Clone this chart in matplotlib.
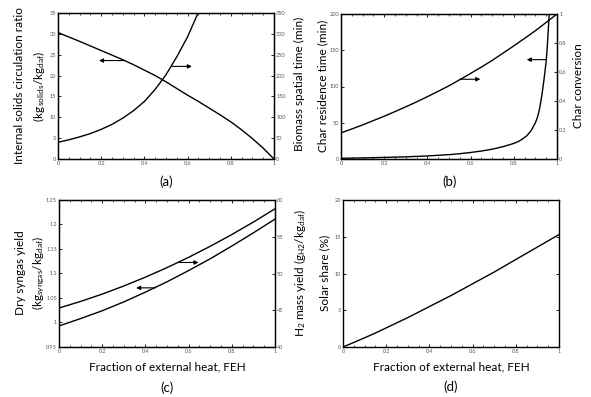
import matplotlib
matplotlib.use("Agg")
import matplotlib.pyplot as plt
from matplotlib.ticker import MultipleLocator, FixedLocator

plt.rcParams['font.family'] = ['Lato', 'DejaVu Sans']
plt.rcParams['mathtext.fontset'] = 'custom'
plt.rcParams['mathtext.rm'] = 'Lato'
plt.rcParams['mathtext.it'] = 'Lato:italic'

# ---- data ----
feh = [0.0, 0.05, 0.1, 0.15, 0.2, 0.25, 0.3, 0.35, 0.4, 0.45, 0.5,
       0.55, 0.6, 0.65, 0.7, 0.75, 0.8, 0.85, 0.9, 0.95, 1.0]

# (a)
circ_ratio = [30.3, 29.25, 28.2, 27.1, 26.0, 24.9, 23.8, 22.6, 21.3, 20.0, 18.5,
              16.9, 15.3, 13.8, 12.2, 10.6, 8.9, 7.0, 4.9, 2.6, 0.0]
feh_spatial = [0.0, 0.05, 0.1, 0.15, 0.2, 0.25, 0.3, 0.35, 0.4, 0.45, 0.5, 0.55, 0.6, 0.65]
spatial_time = [40, 46, 53, 61, 71, 83, 98, 116, 138, 167, 202, 245, 293, 352]

# (b)
feh_res = [0.0, 0.1, 0.2, 0.3, 0.4, 0.5, 0.55, 0.6, 0.65, 0.7, 0.75, 0.8, 0.82, 0.84,
           0.86, 0.88, 0.9, 0.91, 0.92, 0.93, 0.94, 0.95, 0.955, 0.96, 0.964]
char_res_time = [1, 1.5, 2.2, 3, 4.2, 6, 7.3, 9, 11, 13.5, 17, 21.5, 24, 27.5,
                 32, 39, 50, 58, 70, 88, 110, 135, 155, 180, 200]
char_conv = [0.18, 0.207, 0.235, 0.265, 0.295, 0.327, 0.36, 0.394, 0.43, 0.467, 0.505,
             0.547, 0.59, 0.634, 0.68, 0.73, 0.78, 0.832, 0.885, 0.942, 1.0]

# (c)
syngas_yield = [0.993, 1.0005, 1.008, 1.016, 1.024, 1.033, 1.042, 1.052, 1.062, 1.0725, 1.083,
                1.0945, 1.106, 1.118, 1.130, 1.143, 1.156, 1.1695, 1.183, 1.197, 1.211]
h2_yield = [45.3, 45.75, 46.2, 46.7, 47.2, 47.75, 48.3, 48.9, 49.5, 50.15, 50.8,
            51.5, 52.2, 52.95, 53.7, 54.5, 55.3, 56.15, 57.0, 57.9, 58.8]

# (d)
solar_share = [0.0, 0.62, 1.25, 1.9, 2.6, 3.3, 4.0, 4.75, 5.5, 6.25, 7.0,
               7.8, 8.6, 9.4, 10.2, 11.05, 11.9, 12.75, 13.6, 14.45, 15.3]

xticks = [0, 0.2, 0.4, 0.6, 0.8, 1.0]
xticklabels = ['0', '0.2', '0.4', '0.6', '0.8', '1']

W, H = 591, 397
fig = plt.figure(figsize=(W / 100, H / 100), dpi=100)

def box(l, r, t, b):
    return [l / W, 1 - b / H, (r - l) / W, (b - t) / H]

TICKC = '#555555'
TICKFS = 4.0
LABFS = 8.5

def style(ax, ylim, ystep, yfmt=None):
    ax.set_xlim(0, 1)
    ax.set_ylim(*ylim)
    ax.xaxis.set_major_locator(FixedLocator(xticks))
    ax.set_xticklabels(xticklabels)
    ax.xaxis.set_minor_locator(MultipleLocator(0.05))
    ax.yaxis.set_major_locator(MultipleLocator(ystep))
    if yfmt is not None:
        ax.yaxis.set_major_formatter(yfmt)
    ax.tick_params(which='both', direction='in', top=True, colors='black',
                   labelcolor=TICKC, labelsize=TICKFS, pad=1.5)
    ax.tick_params(which='major', length=2.5, width=0.6)
    ax.tick_params(which='minor', length=1.5, width=0.5)
    for s in ax.spines.values():
        s.set_linewidth(1.0)

def twin_style(ax2, ylim, ystep, yfmt=None):
    ax2.set_ylim(*ylim)
    ax2.yaxis.set_major_locator(MultipleLocator(ystep))
    if yfmt is not None:
        ax2.yaxis.set_major_formatter(yfmt)
    ax2.tick_params(which='both', direction='in', colors='black',
                    labelcolor=TICKC, labelsize=TICKFS, pad=1.5)
    ax2.tick_params(which='major', length=2.5, width=0.6)

def gfmt(v, pos):
    s = ('%.2f' % v).rstrip('0').rstrip('.')
    return s

arrowkw = dict(arrowstyle='-|>', lw=0.8, color='black', mutation_scale=6,
               shrinkA=0, shrinkB=0)
LW = 1.0

# ---- (a) ----
axa = fig.add_axes(box(58, 274, 13, 159))
style(axa, (0, 35), 5)
axa.plot(feh, circ_ratio, color='black', lw=LW)
axa2 = axa.twinx()
twin_style(axa2, (0, 350), 50)
axa2.plot(feh_spatial, spatial_time, color='black', lw=LW, clip_on=True)
axa.annotate('', xy=(0.19, 23.6), xytext=(0.31, 23.6), arrowprops=arrowkw)
axa2.annotate('', xy=(0.62, 222), xytext=(0.529, 222), arrowprops=arrowkw)
fig.text(20 / W, 1 - 86 / H, 'Internal solids circulation ratio', rotation=90,
         ha='center', va='center', fontsize=LABFS)
fig.text(39 / W, 1 - 86 / H, r'(kg$_{\,\mathrm{solids}}$/kg$_{\mathrm{daf}}$)', rotation=90,
         ha='center', va='center', fontsize=LABFS)
fig.text(299 / W, 1 - 84 / H, 'Biomass spatial time (min)', rotation=90,
         ha='center', va='center', fontsize=LABFS)
fig.text(166 / W, 1 - 182 / H, '(a)', ha='center', va='center', fontsize=LABFS + 1)

# ---- (b) ----
axb = fig.add_axes(box(341, 557, 14, 159))
style(axb, (0, 200), 50)
axb.plot(feh_res, char_res_time, color='black', lw=LW)
axb2 = axb.twinx()
twin_style(axb2, (0, 1), 0.2, plt.FuncFormatter(gfmt))
axb2.plot(feh, char_conv, color='black', lw=LW)
axb2.annotate('', xy=(0.645, 0.55), xytext=(0.55, 0.55), arrowprops=arrowkw)
axb.annotate('', xy=(0.86, 137), xytext=(0.952, 137), arrowprops=arrowkw)
fig.text(323 / W, 1 - 86 / H, 'Char residence time (min)', rotation=90,
         ha='center', va='center', fontsize=LABFS)
fig.text(579 / W, 1 - 86 / H, 'Char conversion', rotation=90,
         ha='center', va='center', fontsize=LABFS)
fig.text(450 / W, 1 - 182 / H, '(b)', ha='center', va='center', fontsize=LABFS + 1)

# ---- (c) ----
axc = fig.add_axes(box(59, 275, 200, 347))
style(axc, (0.95, 1.25), 0.05, plt.FuncFormatter(gfmt))
axc.plot(feh, syngas_yield, color='black', lw=LW)
axc2 = axc.twinx()
twin_style(axc2, (40, 60), 5)
axc2.plot(feh, h2_yield, color='black', lw=LW)
axc2.annotate('', xy=(0.646, 51.5), xytext=(0.554, 51.5), arrowprops=arrowkw)
axc.annotate('', xy=(0.357, 1.0707), xytext=(0.445, 1.0707), arrowprops=arrowkw)
axc.set_xlabel('Fraction of external heat, FEH', fontsize=LABFS, labelpad=5)
fig.text(21 / W, 1 - 273 / H, 'Dry syngas yield', rotation=90,
         ha='center', va='center', fontsize=LABFS)
fig.text(39 / W, 1 - 273 / H, r'(kg$_{\mathrm{syngas}}$/kg$_{\mathrm{daf}}$)', rotation=90,
         ha='center', va='center', fontsize=LABFS)
fig.text(300 / W, 1 - 273 / H, r'H$_2$ mass yield (g$_{\mathrm{H2}}$/kg$_{\mathrm{daf}}$)', rotation=90,
         ha='center', va='center', fontsize=LABFS)
fig.text(167 / W, 1 - 388 / H, '(c)', ha='center', va='center', fontsize=LABFS + 1)

# ---- (d) ----
axd = fig.add_axes(box(343, 559, 200, 347))
style(axd, (0, 20), 5)
axd.tick_params(which='both', right=True)
axd.plot(feh, solar_share, color='black', lw=LW)
axd.set_xlabel('Fraction of external heat, FEH', fontsize=LABFS, labelpad=5)
fig.text(325 / W, 1 - 273 / H, 'Solar share (%)', rotation=90,
         ha='center', va='center', fontsize=LABFS)
fig.text(451 / W, 1 - 387 / H, '(d)', ha='center', va='center', fontsize=LABFS + 1)

fig.savefig('out.png', dpi=100)
